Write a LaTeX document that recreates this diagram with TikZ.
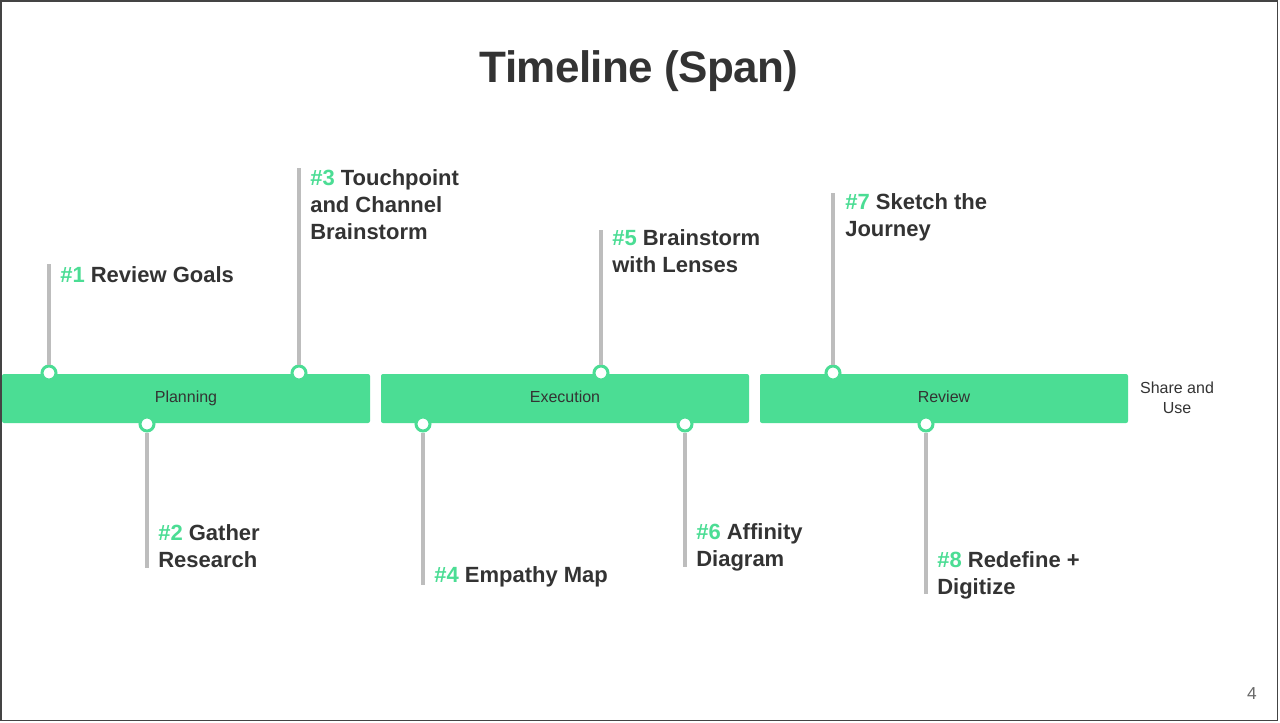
\documentclass[tikz,border=0pt]{standalone}
\usepackage{fontspec}
\setmainfont{Liberation Sans}
\definecolor{tlgreen}{HTML}{4BDD94}
\definecolor{tltext}{HTML}{333333}
\definecolor{tlgray}{HTML}{BDBDBD}
\definecolor{tlframe}{HTML}{444444}
\begin{document}
\begin{tikzpicture}[x=0.75pt,y=-0.75pt,
  bar/.style={fill=tlgreen, rounded corners=1.5pt, minimum width=276pt, minimum height=36.75pt, inner sep=0pt, text height=9pt, text depth=2.5pt, font=\fontsize{12}{14}\selectfont, text=tltext},
  dot/.style={circle, draw=tlgreen, fill=white, line width=2.25pt, minimum size=10.5pt, inner sep=0pt},
  stem/.style={draw=tlgray, line width=2.4pt},
  lbl/.style={anchor=north west, inner sep=0pt, align=left, text=tltext, font=\bfseries\fontsize{16.5}{20}\selectfont},
]
\useasboundingbox (0,0) rectangle (1280,722);
\fill[white] (0,0) rectangle (1280,722);

% title
\node[anchor=base, text=tltext, font=\bfseries\fontsize{33}{38}\selectfont\addfontfeature{LetterSpace=-1.5}, inner sep=0pt] (title) at (639,82) {Timeline (Span)};

% bars
\node[bar] (planning) at (186,398.5) {Planning};
\node[bar] (execution) at (565,398.5) {Execution};
\node[bar] (review) at (944,398.5) {Review};
\node[align=center, text=tltext, font=\fontsize{12}{15}\selectfont, inner sep=0pt] (share) at (1177,398) {Share and\\Use};

% stem end coordinates
\coordinate (t1) at (49,264);
\coordinate (t3) at (299,168);
\coordinate (t5) at (601,230);
\coordinate (t7) at (833,193);
\coordinate (t2) at (147,568);
\coordinate (t4) at (423,585);
\coordinate (t6) at (685,567);
\coordinate (t8) at (926,594);

% dots
\node[dot] (c1) at (49,373) {};
\node[dot] (c3) at (299,373) {};
\node[dot] (c5) at (601,373) {};
\node[dot] (c7) at (833,373) {};
\node[dot] (c2) at (147,424) {};
\node[dot] (c4) at (423,424) {};
\node[dot] (c6) at (685,424) {};
\node[dot] (c8) at (926,424) {};

% stems
\foreach \i in {1,...,8} {\draw[stem] (c\i) -- (t\i);}

% labels
\node[lbl] (l1) at (60,266) {\textcolor{tlgreen}{\#1} Review Goals};
\node[lbl] (l3) at (310,169.5) {\textcolor{tlgreen}{\#3} Touchpoint\\and Channel\\Brainstorm};
\node[lbl] (l5) at (612,229.5) {\textcolor{tlgreen}{\#5} Brainstorm\\with Lenses};
\node[lbl] (l7) at (845,193.5) {\textcolor{tlgreen}{\#7} Sketch the\\Journey};
\node[lbl] (l2) at (158,524.5) {\textcolor{tlgreen}{\#2} Gather\\Research};
\node[lbl] (l4) at (434,566.5) {\textcolor{tlgreen}{\#4} Empathy Map};
\node[lbl] (l6) at (696,523.5) {\textcolor{tlgreen}{\#6} Affinity\\Diagram};
\node[lbl] (l8) at (937,551.5) {\textcolor{tlgreen}{\#8} Redefine +\\Digitize};

% page number
\node[text=tlframe!80, font=\fontsize{13}{15}\selectfont, inner sep=0pt] (page) at (1252,694) {4};

% frame
\draw[tlframe, line width=1.2pt] (1,1) rectangle (1277.5,720.5);
\end{tikzpicture}
\end{document}
